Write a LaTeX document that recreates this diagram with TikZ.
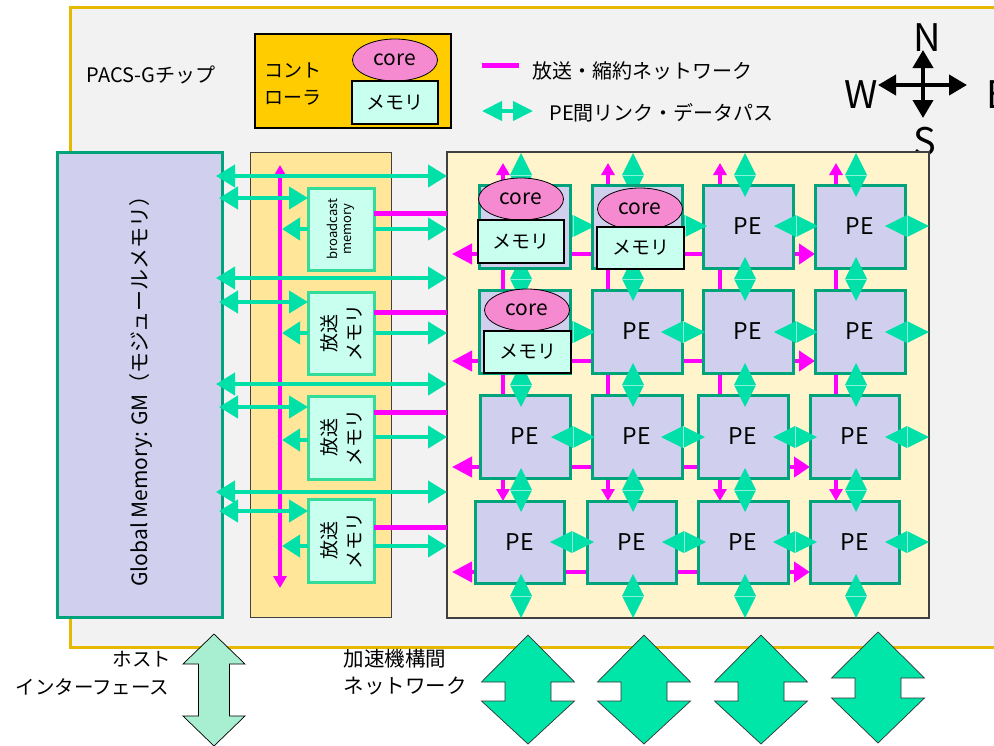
\documentclass[tikz,border=0pt]{standalone}
\usepackage{fontspec}
\setmainfont{Noto Sans CJK JP}
\usetikzlibrary{arrows.meta,shapes.geometric}
\definecolor{chipbg}{HTML}{F2F2F2}
\definecolor{chipborder}{HTML}{E6B800}
\definecolor{ctrlfill}{HTML}{FFCC00}
\definecolor{corefill}{HTML}{F58AD0}
\definecolor{memfill}{HTML}{C8FFEE}
\definecolor{pefill}{HTML}{D0D0EE}
\definecolor{peborder}{HTML}{00A37A}
\definecolor{bcolfill}{HTML}{FFE699}
\definecolor{arrfill}{HTML}{FFF4CC}
\definecolor{bboxborder}{HTML}{33DD99}
\definecolor{lgreen}{HTML}{00E0A8}
\definecolor{mag}{HTML}{FF00FF}
\definecolor{hostfill}{HTML}{A8EED0}
\definecolor{bigfill}{HTML}{00E5A8}
\definecolor{frameline}{HTML}{404040}
\tikzset{
  gtip/.tip={Triangle[length=19pt,width=22pt]},
  stip/.tip={Triangle[length=18pt,width=22pt]},
  mtip/.tip={Triangle[length=20pt,width=20pt]},
  rtip/.tip={Triangle[length=16pt,width=20pt]},
  vtip/.tip={Triangle[length=12pt,width=13pt]},
  ktip/.tip={Triangle[length=18pt,width=20pt]},
  garrow/.style={draw=lgreen,line width=4pt},
  marrow/.style={draw=mag,line width=4pt},
  linkline/.style={draw=white!55!lgreen,line width=0.8pt},
  pebox/.style={draw=peborder,fill=pefill,line width=3pt,inner sep=0pt,font=\fontsize{23}{26}\selectfont},
  bbox/.style={draw=bboxborder,fill=memfill,line width=3pt,inner sep=0pt,minimum width=66pt},
  corenode/.style={ellipse,draw=black,line width=0.8pt,fill=corefill,minimum width=85pt,minimum height=42pt,inner sep=0pt,font=\fontsize{21}{22}\selectfont},
  memnode/.style={draw=black,line width=2.5pt,fill=memfill,inner sep=0pt,minimum height=42pt,font=\fontsize{19}{22}\selectfont},
  lbl/.style={font=\fontsize{20}{26}\selectfont},
  bigarrow/.style={draw=black!80,line width=0.7pt,fill=bigfill},
}
\newcommand\hlk[2]{%
  \fill[lgreen] (#1-22,#2) -- (#1,#2-11) -- (#1+22,#2) -- (#1,#2+11) -- cycle;
  \draw[linkline] (#1,#2-11) -- (#1,#2+11);}
\newcommand\vlk[2]{%
  \fill[lgreen] (#1,#2-22) -- (#1+11,#2) -- (#1,#2+22) -- (#1-11,#2) -- cycle;
  \draw[linkline] (#1-11,#2) -- (#1+11,#2);}
\newcommand\penode[6]{%
  \node[pebox,minimum width=#4-#2,minimum height=#5-#3] (#1) at ({(#2+#4)/2},{(#3+#5)/2}) {#6};}
\newcommand\bigdarrow[5]{% cx, top, headbase, shaftend, bottom
  \draw[bigarrow] (#1,#2) -- (#1+46.5,#3) -- (#1+23,#3) -- (#1+23,#4) -- (#1+46.5,#4) -- (#1,#5)
    -- (#1-46.5,#4) -- (#1-23,#4) -- (#1-23,#3) -- (#1-46.5,#3) -- cycle;}
\begin{document}
\begin{tikzpicture}[x=1pt,y=-1pt]
\useasboundingbox (0,0) rectangle (994,745);
\fill[white] (0,0) rectangle (994,745);
\clip (0,0) rectangle (994,745);
% chip
\draw[fill=chipbg,draw=chipborder,line width=3pt] (70,7) rectangle (1010,647);
\node[lbl,anchor=west] (chip) at (83,75) {PACS-Gチップ};
% controller
\node[draw=black,line width=2.5pt,fill=ctrlfill,minimum width=196pt,minimum height=94pt,inner sep=0pt] (ctrl) at (353,81) {};
\node[anchor=west,align=left,font=\fontsize{19}{27}\selectfont] (ctrltxt) at (261,84) {コント\\ローラ};
\node[corenode] (ccore) at (395,60) {core};
\node[memnode,minimum width=86pt,minimum height=43pt] (cmem) at (395,102.5) {メモリ};
% legend
\draw[mag,line width=5pt] (482,65) -- (519,65);
\node[lbl,anchor=west] (leg1) at (529,71) {放送・縮約ネットワーク};
\draw[garrow,{Triangle[length=20pt,width=19pt]}-{Triangle[length=20pt,width=19pt]}] (482,111) -- (533,111);
\node[lbl,anchor=west] (leg2) at (546,113) {PE間リンク・データパス};
% compass
\coordinate (cc) at (923,85);
\draw[line width=4pt,-ktip] (cc) -- (923,50);
\draw[line width=4pt,-ktip] (cc) -- (923,118);
\draw[line width=4pt,-ktip] (cc) -- (878,85);
\draw[line width=4pt,-ktip] (cc) -- (967,85);
\node[font=\fontsize{38}{40}\selectfont] (cN) at (927,38) {N};
\node[font=\fontsize{38}{40}\selectfont] (cW) at (861,95) {W};
\node[font=\fontsize{38}{40}\selectfont] (cE) at (998,95) {E};
\node[font=\fontsize{38}{40}\selectfont] (cS) at (925,142) {S};
% global memory
\node[draw=peborder,fill=pefill,line width=3pt,minimum width=165pt,minimum height=465pt,inner sep=0pt] (gm) at (139.5,384.5) {};
\node[rotate=90,font=\fontsize{21}{26}\selectfont] (gmtxt) at (141,386) {Global Memory: GM（モジュールメモリ）};
% broadcast column and array frame
\draw[fill=bcolfill,draw=frameline,line width=1pt] (250,152) rectangle (391,617);
\draw[fill=arrfill,draw=frameline,line width=1.3pt] (447,152) rectangle (929,618);
% magenta bar in broadcast column
\draw[marrow,vtip-vtip] (280,165) -- (280,588);
% broadcast boxes
\node[bbox,minimum height=82pt] (bm) at (341,229) {};
\node[rotate=90,align=center,font=\fontsize{13}{14}\selectfont] (bmtxt) at (bm.center) {broadcast\\memory};
\node[bbox,minimum height=82pt] (bb1) at (341,333) {};
\node[bbox,minimum height=83pt] (bb2) at (341,437.5) {};
\node[bbox,minimum height=83pt] (bb3) at (341,540.5) {};
\foreach \b in {bb1,bb2,bb3}{
  \node[rotate=90,align=center,font=\fontsize{19}{25}\selectfont] at (\b.center) {放送\\メモリ};}
% GM - array arrows
\foreach \y in {176,278,384,492}{\draw[garrow,gtip-gtip] (216,\y) -- (447,\y);}
\foreach \y in {198,302,407,511}{\draw[garrow,gtip-gtip] (219,\y) -- (308,\y);}
\foreach \y in {229,333,440,546}{\draw[garrow,-stip] (308,\y) -- (282,\y);}
\foreach \y in {229,333,437,546}{\draw[garrow,-gtip] (374,\y) -- (447,\y);}
\foreach \y in {213,312,412,527}{\draw[mag,line width=5pt] (374,\y) -- (447,\y);}
% magenta network in array
\foreach \x in {503,608,720,836}{
  \draw[marrow,-vtip] (\x,478) -- (\x,163);
  \draw[marrow,-vtip] (\x,476) -- (\x,501);}
\foreach \y in {254,361}{
  \draw[marrow,-mtip] (793,\y) -- (452,\y);
  \draw[marrow,-rtip] (785,\y) -- (815,\y);}
\foreach \y in {467,572}{
  \draw[marrow,-mtip] (788,\y) -- (452,\y);
  \draw[marrow,-rtip] (780,\y) -- (810,\y);}
% plain PEs
\penode{pe13}{703}{185}{793}{268}{PE}
\penode{pe14}{815}{185}{905}{268}{PE}
\penode{pe22}{592}{290}{682}{373}{PE}
\penode{pe23}{703}{290}{793}{373}{PE}
\penode{pe24}{815}{290}{905}{373}{PE}
\penode{pe31}{480}{395}{570}{478}{PE}
\penode{pe32}{592}{395}{682}{478}{PE}
\penode{pe33}{698}{395}{788}{478}{PE}
\penode{pe34}{810}{395}{899}{478}{PE}
\penode{pe41}{475}{501}{564}{583}{PE}
\penode{pe42}{587}{501}{676}{583}{PE}
\penode{pe43}{698}{501}{788}{583}{PE}
\penode{pe44}{810}{501}{899}{583}{PE}
% links
\foreach \x in {573,685,796,907}{\hlk{\x}{226}}
\foreach \x in {573,683,796,907}{\hlk{\x}{332}}
\foreach \x in {573,683,795,907}{\hlk{\x}{437}}
\foreach \x in {572,684,795,907}{\hlk{\x}{542}}
\foreach \x in {521,633,745,856}{
  \foreach \y in {175,279,385,490,596}{\vlk{\x}{\y}}}
% PEs with core
\penode{pe11}{479}{185}{570}{268}{}
\node[corenode] (core11) at (521,199) {core};
\node[memnode,minimum width=86pt,minimum height=43pt] (mem11) at (521,241.5) {メモリ};
\penode{pe12}{592}{185}{682}{268}{}
\node[corenode] (core12) at (640,209) {core};
\node[memnode,minimum width=87pt] (mem12) at (640.5,248) {メモリ};
\penode{pe21}{479}{290}{570}{373}{}
\node[corenode] (core21) at (527,310) {core};
\node[memnode,minimum width=87pt] (mem21) at (527.5,352) {メモリ};
% bottom
\draw[draw=black,line width=0.7pt,fill=hostfill] (214,634) -- (245,664) -- (229.5,664) -- (229.5,716) -- (245,716) -- (214,746)
  -- (183,716) -- (198.5,716) -- (198.5,664) -- (183,664) -- cycle;
\node[anchor=east,font=\fontsize{19.5}{22}\selectfont] (host1) at (175,659) {ホスト};
\node[anchor=east,font=\fontsize{19.5}{22}\selectfont] (host2) at (173,687) {インターフェース};
\node[anchor=west,align=left,font=\fontsize{20.5}{27}\selectfont] (acc) at (340,672) {加速機構間\\ネットワーク};
\bigdarrow{528}{635}{682}{701}{744}
\bigdarrow{644}{635}{682}{701}{744}
\bigdarrow{761}{635}{682}{701}{744}
\bigdarrow{878}{632}{678}{698}{743}
\end{tikzpicture}
\end{document}
